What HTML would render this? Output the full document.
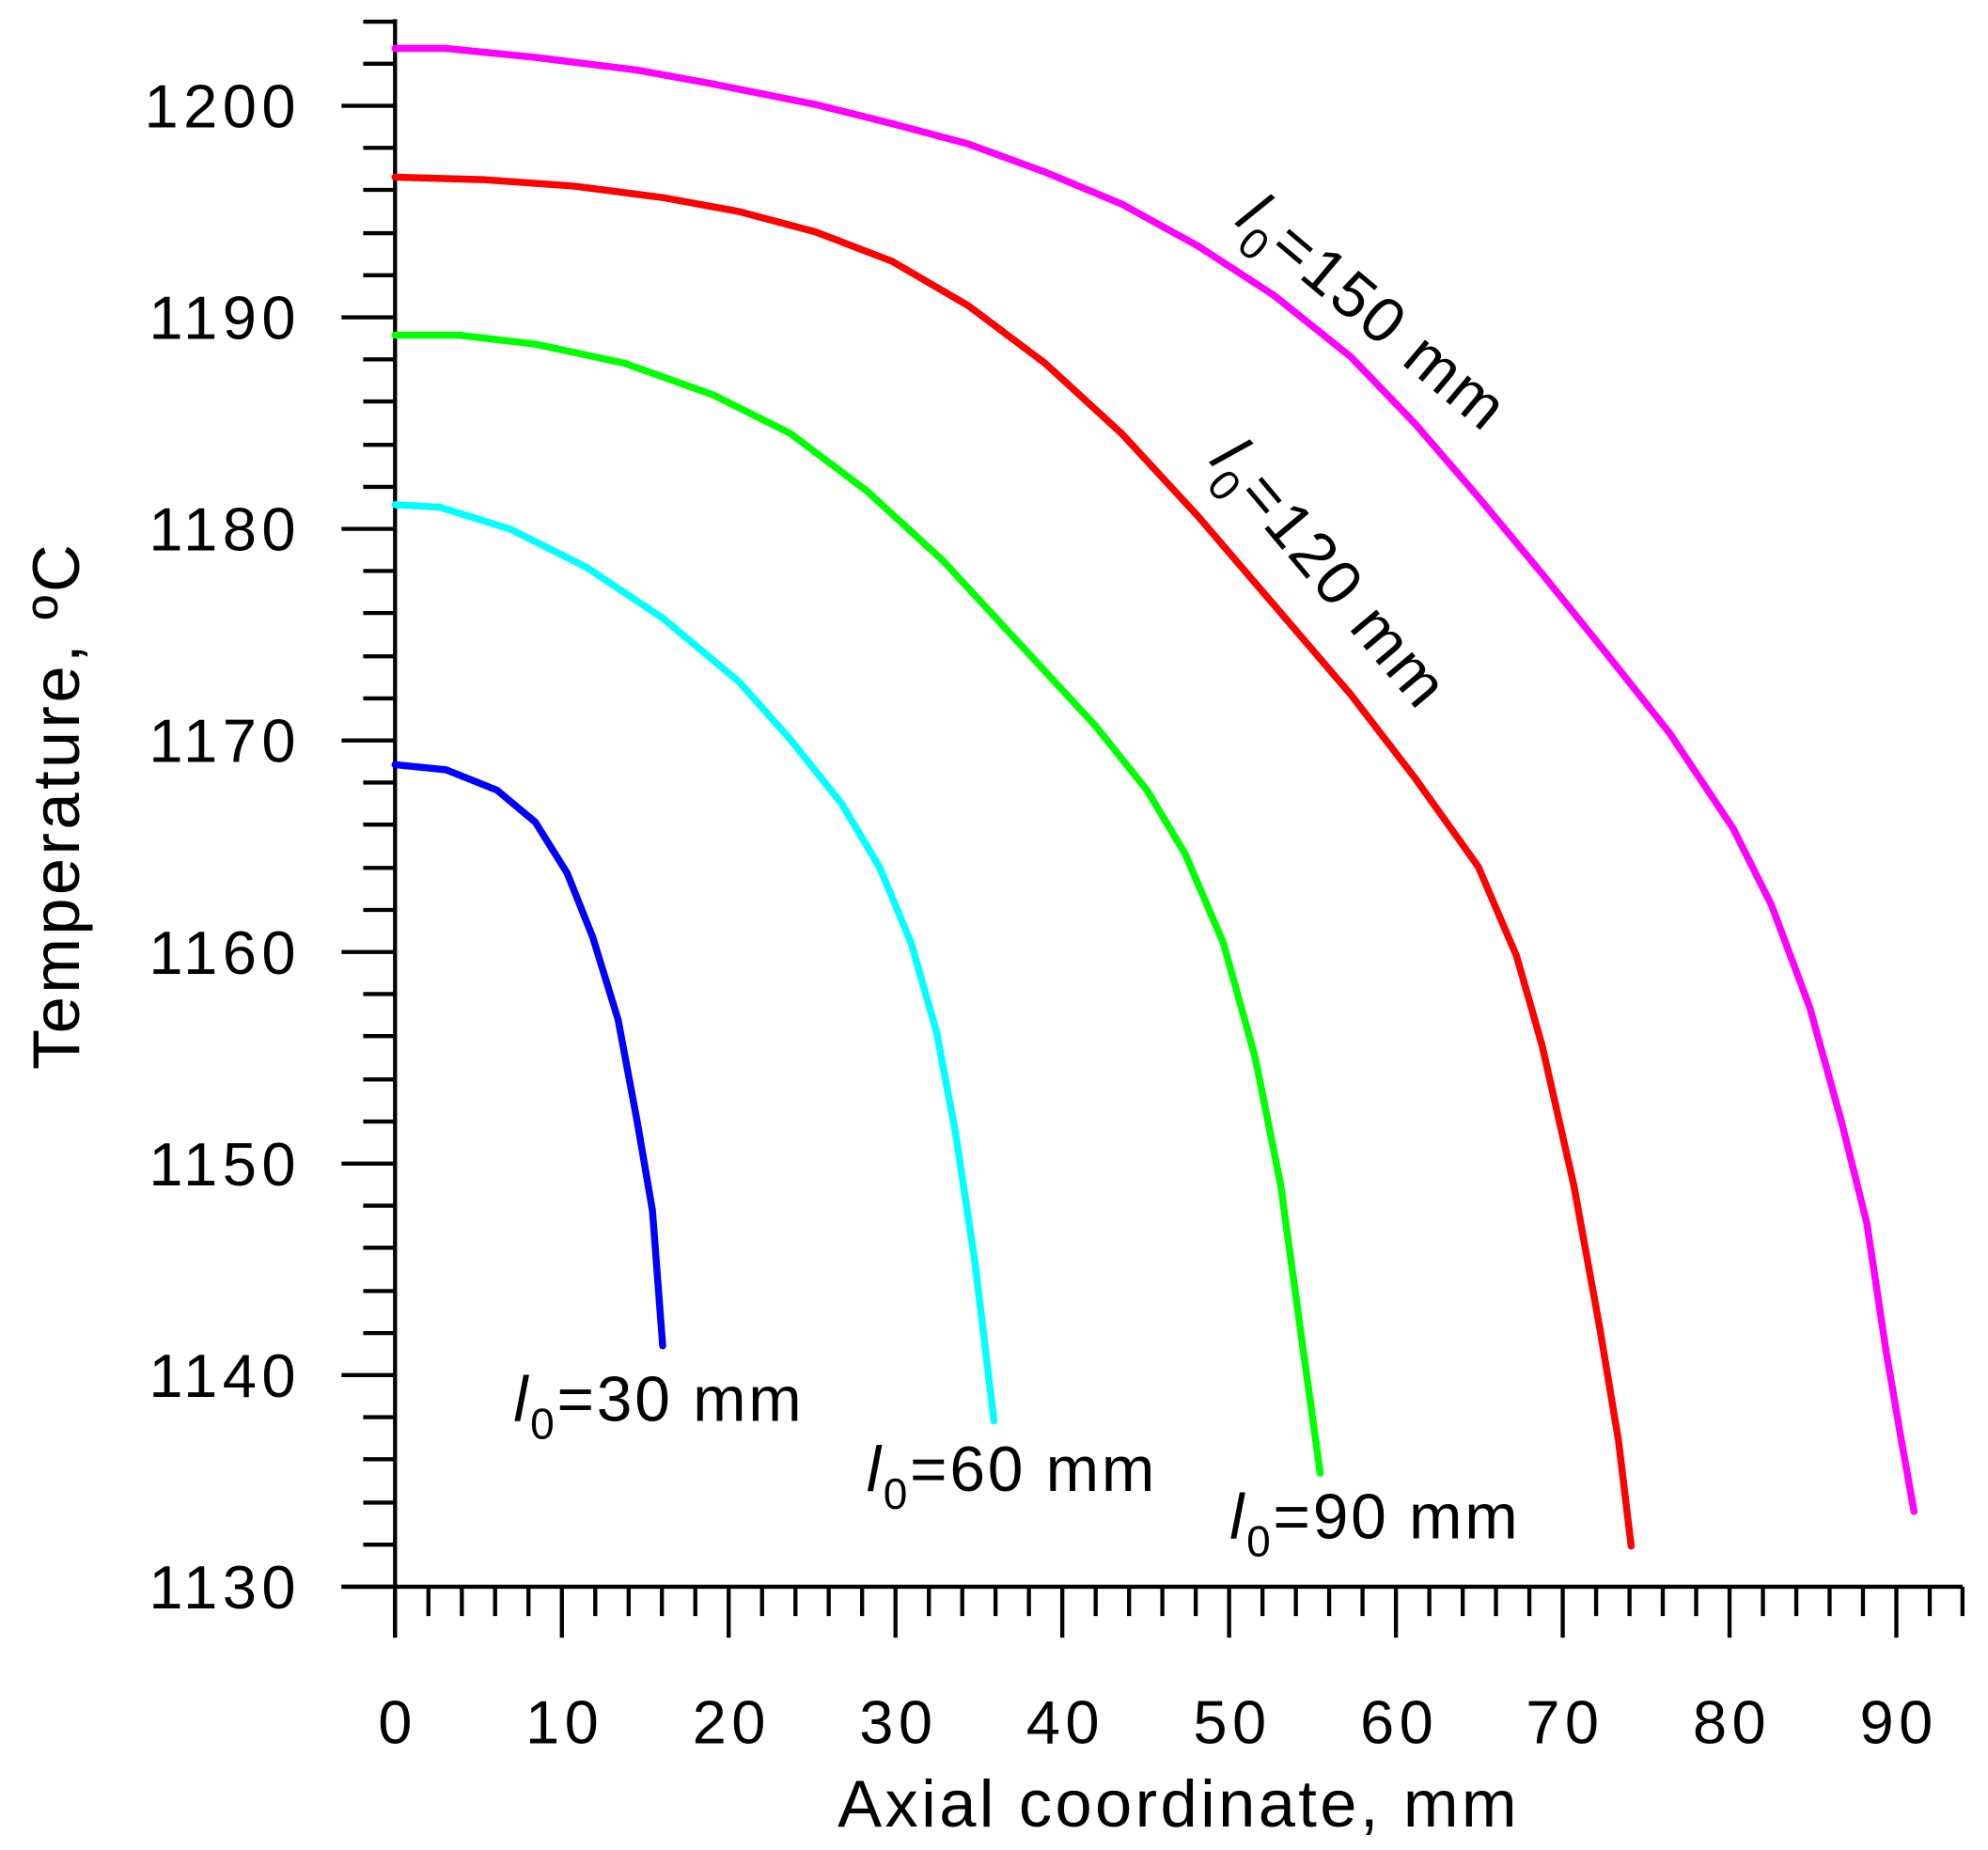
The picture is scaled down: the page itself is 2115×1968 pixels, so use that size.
<!DOCTYPE html>
<html><head><meta charset="utf-8"><style>html,body{margin:0;padding:0;background:#fff}svg{display:block}</style></head>
<body>
<svg width="2115" height="1968" viewBox="0 0 1560 1451.6" xmlns="http://www.w3.org/2000/svg" font-family="Liberation Sans, Arial, sans-serif">
<g stroke="#000" stroke-width="3.2" fill="none">
<line x1="310" y1="15" x2="310" y2="1285"/>
<line x1="268" y1="1245" x2="1540" y2="1245"/>
<path d="M268 1245H310M268 1079H310M268 913H310M268 747H310M268 581H310M268 415H310M268 249H310M268 83H310
M285 1212H310M285 1179H310M285 1145H310M285 1112H310
M285 1046H310M285 1013H310M285 979H310M285 946H310
M285 880H310M285 847H310M285 813H310M285 780H310
M285 714H310M285 681H310M285 647H310M285 614H310
M285 548H310M285 515H310M285 481H310M285 448H310
M285 382H310M285 349H310M285 315H310M285 282H310
M285 216H310M285 183H310M285 149H310M285 116H310
M285 50H310M285 17H310"/>
<path d="M310 1245V1285M440.9 1245V1285M571.8 1245V1285M702.7 1245V1285M833.6 1245V1285M964.5 1245V1285M1095.4 1245V1285M1226.3 1245V1285M1357.2 1245V1285M1488.1 1245V1285"/>
<path d="M336.2 1245v23M362.4 1245v23M388.5 1245v23M414.7 1245v23M467.1 1245v23M493.3 1245v23M519.4 1245v23M545.6 1245v23M598 1245v23M624.2 1245v23M650.3 1245v23M676.5 1245v23M728.9 1245v23M755.1 1245v23M781.2 1245v23M807.4 1245v23M859.8 1245v23M886 1245v23M912.1 1245v23M938.3 1245v23M990.7 1245v23M1016.9 1245v23M1043 1245v23M1069.2 1245v23M1121.6 1245v23M1147.8 1245v23M1173.9 1245v23M1200.1 1245v23M1252.5 1245v23M1278.7 1245v23M1304.8 1245v23M1331 1245v23M1383.4 1245v23M1409.6 1245v23M1435.7 1245v23M1461.9 1245v23M1514.3 1245v23M1540 1245v23"/>
</g>
<g font-size="48" letter-spacing="4" text-anchor="end" fill="#000">
<text x="236" y="1262">1130</text><text x="236" y="1096">1140</text><text x="236" y="930">1150</text><text x="236" y="764">1160</text><text x="236" y="598">1170</text><text x="236" y="432">1180</text><text x="236" y="266">1190</text><text x="236" y="100">1200</text>
</g>
<g font-size="48" letter-spacing="4" text-anchor="middle" fill="#000">
<text x="312" y="1368">0</text><text x="443" y="1368">10</text><text x="574" y="1368">20</text><text x="705" y="1368">30</text><text x="836" y="1368">40</text><text x="967" y="1368">50</text><text x="1098" y="1368">60</text><text x="1228" y="1368">70</text><text x="1359" y="1368">80</text><text x="1490" y="1368">90</text>
<text x="925" y="1433" font-size="52" letter-spacing="2.5">Axial coordinate, mm</text>
<text transform="translate(62,632) rotate(-90)" font-size="52" letter-spacing="2.5">Temperature, ºC</text>
</g>
<g fill="none" stroke-width="5.5" stroke-linejoin="round" stroke-linecap="round">
<polyline stroke="#ff00ff" points="310,38 350,38 420,45 500,55 560,66 640,82 700,97 760,113 820,135 880,160 940,193 1000,232 1060,280 1110,332 1160,390 1210,450 1260,512 1310,575 1360,650 1390,710 1420,790 1445,880 1465,960 1480,1060 1492,1130 1502,1186"/>
<polyline stroke="#ff0000" points="310,139 380,141 450,146 520,155 580,166 640,182 700,205 760,240 820,285 880,340 940,405 1000,475 1060,545 1110,610 1160,680 1190,750 1210,820 1235,930 1255,1040 1270,1130 1280,1213"/>
<polyline stroke="#00ff00" points="310,263 360,263 420,270 490,285 560,310 620,340 680,385 740,440 800,505 860,570 900,620 930,670 960,740 985,830 1005,930 1020,1040 1036,1156"/>
<polyline stroke="#00ffff" points="310,396 345,398 400,415 460,445 520,485 580,535 620,580 660,630 690,680 715,740 735,810 750,890 765,990 780,1115"/>
<polyline stroke="#0000ff" points="310,600 350,604 390,620 420,645 445,685 465,735 485,800 500,880 512,950 520,1056"/>
</g>
<g font-size="50" letter-spacing="2" fill="#000">
<text x="403" y="1115"><tspan font-style="italic">l</tspan><tspan font-size="34" dy="14">0</tspan><tspan dy="-14">=30 mm</tspan></text>
<text x="680" y="1170"><tspan font-style="italic">l</tspan><tspan font-size="34" dy="14">0</tspan><tspan dy="-14">=60 mm</tspan></text>
<text x="965" y="1207"><tspan font-style="italic">l</tspan><tspan font-size="34" dy="14">0</tspan><tspan dy="-14">=90 mm</tspan></text>
<text transform="translate(968,175) rotate(40)"><tspan font-style="italic">l</tspan><tspan font-size="34" dy="14">0</tspan><tspan dy="-14">=150 mm</tspan></text>
<text transform="translate(948,362) rotate(50)"><tspan font-style="italic">l</tspan><tspan font-size="34" dy="14">0</tspan><tspan dy="-14">=120 mm</tspan></text>
</g>
</svg>
</body></html>
